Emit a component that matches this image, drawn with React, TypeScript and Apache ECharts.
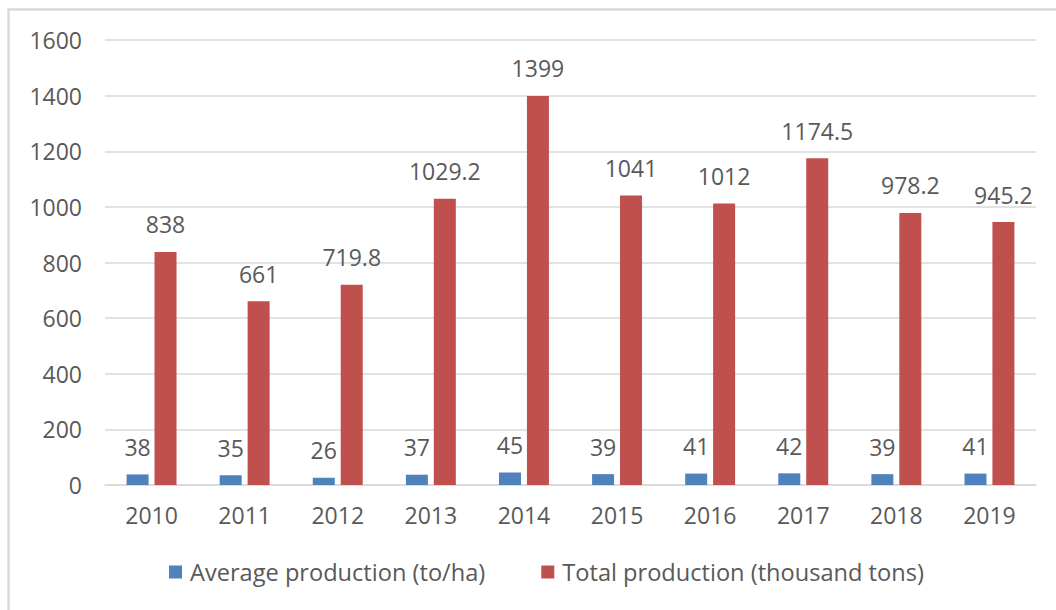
import React, { useEffect, useRef } from "react";
import * as echarts from "echarts";

const years = ["2010", "2011", "2012", "2013", "2014", "2015", "2016", "2017", "2018", "2019"];
const averageProduction = [38, 35, 26, 37, 45, 39, 41, 42, 39, 41];
const totalProduction = [838, 661, 719.8, 1029.2, 1399, 1041, 1012, 1174.5, 978.2, 945.2];
const seriesNames = ["Average production (to/ha)", "Total production (thousand tons)"];

const FONT = "'Open Sans', 'Noto Sans', sans-serif";
const TEXT = "#595959";

export default function App() {
  const ref = useRef<HTMLDivElement>(null);
  useEffect(() => {
    const chart = echarts.init(ref.current!, null, { renderer: "svg" });
    const label = {
      show: true,
      position: "top",
      distance: 16,
      color: TEXT,
      fontSize: 23,
      fontFamily: FONT,
    };
    chart.setOption({
      animation: false,
      backgroundColor: "#ffffff",
      graphic: [
        {
          type: "rect",
          shape: { x: 8.5, y: 9.5, width: 1100, height: 700 },
          style: { fill: "none", stroke: "#D9D9D9", lineWidth: 2.5 },
          silent: true,
        },
      ],
      grid: { left: 105, right: 20, top: 40, bottom: 125, containLabel: false },
      legend: {
        left: 169,
        top: 560,
        padding: 0,
        itemWidth: 13,
        itemHeight: 13,
        itemGap: 56,
        icon: "rect",
        textStyle: { color: TEXT, fontSize: 23.6, fontFamily: FONT, padding: [0, 0, 0, 3] },
        data: seriesNames,
      },
      xAxis: {
        type: "category",
        data: years,
        axisLine: { show: true, lineStyle: { color: "#D9D9D9", width: 1.5 } },
        axisTick: { show: false },
        axisLabel: { color: TEXT, fontSize: 23, fontFamily: FONT, margin: 18 },
      },
      yAxis: {
        type: "value",
        min: 0,
        max: 1600,
        interval: 200,
        axisLine: { show: false },
        axisTick: { show: false },
        splitLine: { lineStyle: { color: "#D9D9D9", width: 1.5 } },
        axisLabel: {
          color: TEXT,
          fontSize: 23,
          fontFamily: FONT,
          margin: 23,
          formatter: (v: number) => String(v),
        },
      },
      series: [
        {
          name: seriesNames[0],
          type: "bar",
          data: averageProduction,
          barWidth: 22,
          barGap: "27%",
          itemStyle: { color: "#4F81BD" },
          label,
        },
        {
          name: seriesNames[1],
          type: "bar",
          data: totalProduction,
          barWidth: 22,
          barGap: "27%",
          itemStyle: { color: "#C0504D" },
          label,
        },
      ],
    });
    return () => chart.dispose();
  }, []);
  return (
    <div
      ref={ref}
      style={{ position: "fixed", left: 0, top: 0, width: 1056, height: 610 }}
    />
  );
}
